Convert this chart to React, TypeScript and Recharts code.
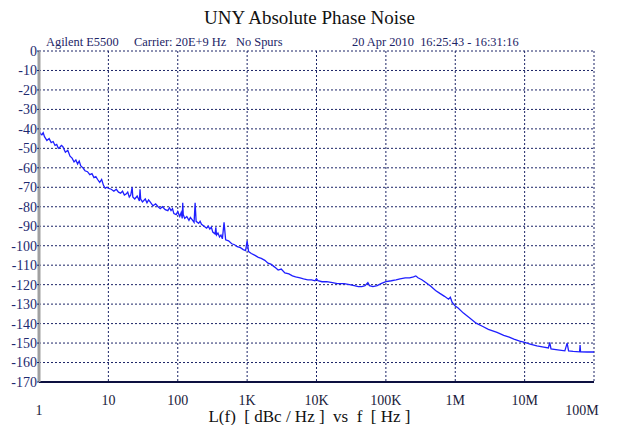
import React from "react";
import {
  CartesianGrid,
  Line,
  LineChart,
  XAxis,
  YAxis,
} from "recharts";

// offset frequency (Hz) and L(f) (dBc/Hz)
const freqHz = [
  1, 1.05, 1.1, 1.15, 1.2, 1.3, 1.4, 1.5, 1.6, 1.7, 1.8, 1.9, 2, 2.1, 2.2, 2.4, 2.6, 2.8, 3, 3.2, 3.4, 3.6, 3.8, 4, 4.3, 4.6,
  5, 5.4, 5.8, 6.2, 6.6, 7, 7.5, 8, 8.5, 9, 9.5, 10, 11, 12, 13, 14, 15, 16, 17, 18,
  19, 20, 21, 22, 22.5, 24, 26, 28, 28.6, 29.2, 31, 34, 36, 38, 40, 44, 48, 52, 56, 60, 66, 72,
  76, 80, 84, 88, 95, 100, 107, 112, 116, 118, 120, 126, 135, 145, 152, 160, 172, 178, 184, 200, 210, 220, 240, 260,
  275, 290, 305, 320, 345, 354, 362, 380, 400, 420, 440, 465, 490, 540, 600, 660, 720, 800, 880, 950, 1000, 1050, 1150, 1300,
  1450, 1600, 1800, 2000, 2200, 2500, 2800, 3100, 3500, 4000, 4500, 5000, 5800, 6500, 7500, 8500, 9500, 10000, 10500, 12000,
  14000, 17000, 20000, 25000, 30000, 35000, 40000, 45000, 50000, 55000, 58000, 65000, 75000, 85000, 100000, 120000, 140000, 160000, 190000, 220000,
  250000, 270000, 290000, 330000, 380000, 440000, 520000, 600000, 700000, 800000, 850000, 900000, 1e6, 1.1e6, 1.3e6, 1.6e6, 2e6, 2.5e6, 3e6, 4e6,
  5e6, 6e6, 7e6, 8.5e6, 1e7, 1.2e7, 1.5e7, 1.8e7, 2.2e7, 2.3e7, 2.4e7, 3e7, 3.8e7, 4.1e7, 4.3e7, 5e7, 6.2e7, 6.3e7, 6.4e7, 8e7,
  1e8,
];
const noiseDbc = [
  -41, -42.5, -43, -42, -44, -46, -45, -47, -46.5, -48.5, -48, -50, -49.5, -48.5, -49, -52, -51, -54, -55, -57, -56, -58, -56.5, -59, -60, -61.5,
  -62, -63.5, -63, -65, -64.5, -66, -67.5, -66, -69, -70.5, -70, -70.5, -71, -72, -71, -72.5, -73, -72, -74, -73.5,
  -72.5, -75, -74, -70, -75, -76, -74.5, -77, -71, -76, -77.5, -76, -78, -76.5, -77.5, -79.5, -78.5, -80, -81, -80, -81.5, -82,
  -80.5, -82, -81, -83.5, -84, -82.5, -85, -83, -86, -78, -84, -86, -85, -87, -85.5, -86.5, -88, -78, -87.5, -88.5, -87.5, -89, -90, -91,
  -90, -91.5, -90.5, -93, -94, -90.5, -94.5, -93.5, -95.5, -94.5, -96.5, -88, -97, -97.5, -99, -99.5, -100.5, -101, -102, -102.5, -97.5, -103, -104, -105,
  -106, -106.5, -107.5, -109, -109.5, -111, -112.5, -112, -114, -114.5, -115.5, -116, -116.5, -117, -117.5, -117.5, -118, -117, -118, -118.5,
  -118.5, -119, -119.5, -119.5, -120, -120.5, -121, -121, -120.5, -119, -120.5, -121, -120.5, -119.5, -118.5, -118, -117.5, -117, -116.5, -116.5,
  -116, -115.5, -116.5, -117.5, -119, -120.7, -123, -124.5, -126, -127.5, -126.5, -129, -131, -132, -134.5, -137, -139.8, -141.5, -143, -144.5,
  -146, -147, -148, -149, -149.7, -150.5, -151.5, -152, -152.5, -149.7, -153, -153.5, -154, -150, -154, -154.3, -154.5, -151, -154.5, -154.6,
  -154.6,
];

const xDecades = [1, 10, 100, 1e3, 1e4, 1e5, 1e6, 1e7, 1e8];
const xDecadeLabels = ["1", "10", "100", "1K", "10K", "100K", "1M", "10M", "100M"];
const xMinorTicks = xDecades.slice(0, 8).flatMap((d) => [2, 4, 6, 8].map((m) => m * d));
const yMajorTicks = [-170, -160, -150, -140, -130, -120, -110, -100, -90, -80, -70, -60, -50, -40, -30, -20, -10, 0];
const yMinorTicks = yMajorTicks.slice(0, 17).map((v) => v + 5);
const yRightTicks = [...yMajorTicks, ...yMinorTicks].sort((a, b) => a - b);

const data = freqHz.map((f, i) => ({ f, dbc: noiseDbc[i] }));

const NAVY = "#1c2466";
const SERIF = "'Liberation Serif', 'DejaVu Serif', serif";

function XTick(props: any) {
  const { x, y, payload } = props;
  const i = xDecades.indexOf(payload.value);
  const low = i === 0 || i === xDecades.length - 1;
  return (
    <text
      x={i === xDecades.length - 1 ? x - 12 : x}
      y={y}
      dy={low ? 31 : 21}
      textAnchor="middle"
      fontSize={14}
      fontFamily={SERIF}
      fill="#1a1a3a"
    >
      {xDecadeLabels[i]}
    </text>
  );
}

const subStyle: React.CSSProperties = {
  position: "absolute",
  top: 35,
  fontSize: 12.4,
  color: NAVY,
  whiteSpace: "pre",
};

export default function App() {
  return (
    <div
      style={{
        position: "absolute",
        left: 0,
        top: 0,
        width: 619,
        height: 425,
        background: "#fff",
        fontFamily: SERIF,
      }}
    >
      <div
        style={{
          position: "absolute",
          top: 7,
          width: 619,
          textAlign: "center",
          fontSize: 19,
          color: "#111",
        }}
      >
        UNY Absolute Phase Noise
      </div>
      <div style={{ ...subStyle, left: 46 }}>Agilent E5500</div>
      <div style={{ ...subStyle, left: 134 }}>Carrier: 20E+9 Hz</div>
      <div style={{ ...subStyle, left: 236 }}>No Spurs</div>
      <div style={{ ...subStyle, left: 352 }}>20 Apr 2010  16:25:43 - 16:31:16</div>
      <div
        style={{
          position: "absolute",
          top: 407,
          width: 619,
          textAlign: "center",
          fontSize: 17,
          color: "#111",
          whiteSpace: "pre",
        }}
      >
        L(f)  [ dBc / Hz ]  vs  f  [ Hz ]
      </div>
      <LineChart
        width={619}
        height={425}
        data={data}
        margin={{ top: 51, right: 25, bottom: 0, left: 0 }}
        style={{ position: "absolute", left: 0, top: 0 }}
      >
        <CartesianGrid stroke={NAVY} strokeDasharray="2 2" strokeWidth={1} />
        <XAxis
          dataKey="f"
          type="number"
          scale="log"
          domain={[1, 1e8]}
          allowDataOverflow
          ticks={xDecades}
          interval={0}
          height={43}
          tickSize={0}
          tickLine={false}
          axisLine={{ stroke: "#0d1040", strokeWidth: 2 }}
          tick={<XTick />}
        />
        <XAxis
          xAxisId="bmin"
          dataKey="f"
          type="number"
          scale="log"
          domain={[1, 1e8]}
          allowDataOverflow
          ticks={xMinorTicks}
          interval={0}
          height={0}
          mirror
          tickSize={4}
          tick={false}
          axisLine={false}
          tickLine={{ stroke: "#555" }}
        />
        <XAxis
          xAxisId="top"
          orientation="top"
          dataKey="f"
          type="number"
          scale="log"
          domain={[1, 1e8]}
          allowDataOverflow
          ticks={xMinorTicks}
          interval={0}
          height={0}
          mirror
          tickSize={4}
          tick={false}
          axisLine={{ stroke: "#444", strokeWidth: 1 }}
          tickLine={{ stroke: "#555" }}
        />
        <YAxis
          type="number"
          domain={[-170, 0]}
          ticks={yMajorTicks}
          interval={0}
          width={39}
          tickSize={2}
          tickMargin={0}
          axisLine={{ stroke: "#a0a0a0", strokeWidth: 3 }}
          tickLine={{ stroke: NAVY }}
          tick={{ fontSize: 14, fontFamily: SERIF, fill: "#1e2a70" }}
        />
        <YAxis
          yAxisId="lmin"
          type="number"
          domain={[-170, 0]}
          ticks={yMinorTicks}
          interval={0}
          width={0}
          mirror
          tickSize={6}
          tick={false}
          axisLine={false}
          tickLine={{ stroke: "#333" }}
        />
        <YAxis
          yAxisId="right"
          orientation="right"
          type="number"
          domain={[-170, 0]}
          ticks={yRightTicks}
          interval={0}
          width={0}
          mirror
          tickSize={7}
          tick={false}
          axisLine={{ stroke: "#b8b8d0", strokeWidth: 2 }}
          tickLine={{ stroke: "#333" }}
        />
        <Line
          dataKey="dbc"
          type="linear"
          stroke="#1f1fff"
          strokeWidth={1.3}
          dot={false}
          isAnimationActive={false}
        />
      </LineChart>
    </div>
  );
}
